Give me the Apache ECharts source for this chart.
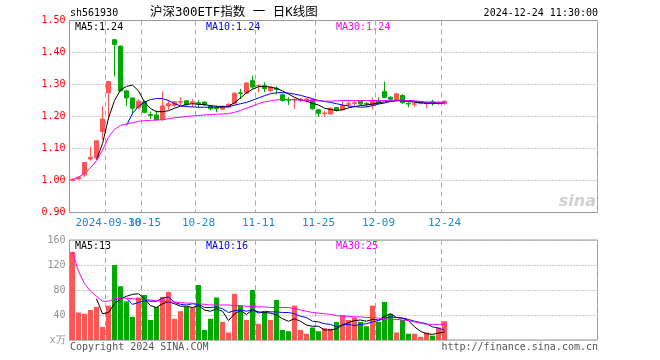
<!DOCTYPE html>
<html><head><meta charset="utf-8">
<script src="https://cdn.jsdelivr.net/npm/echarts@6/dist/echarts.min.js"></script>
<style>html,body{margin:0;padding:0;background:#fff}#c{width:660px;height:360px}</style>
</head><body><div id="c"></div>
<script>
// ---- data ----
const dates = ['2024-09-20','2024-09-23','2024-09-24','2024-09-25','2024-09-26','2024-09-27','2024-09-30',
'2024-10-08','2024-10-09','2024-10-10','2024-10-11','2024-10-14','2024-10-15','2024-10-16','2024-10-17','2024-10-18',
'2024-10-21','2024-10-22','2024-10-23','2024-10-24','2024-10-25','2024-10-28','2024-10-29','2024-10-30','2024-10-31',
'2024-11-01','2024-11-04','2024-11-05','2024-11-06','2024-11-07','2024-11-08','2024-11-11','2024-11-12','2024-11-13',
'2024-11-14','2024-11-15','2024-11-18','2024-11-19','2024-11-20','2024-11-21','2024-11-22','2024-11-25','2024-11-26',
'2024-11-27','2024-11-28','2024-11-29','2024-12-02','2024-12-03','2024-12-04','2024-12-05','2024-12-06','2024-12-09',
'2024-12-10','2024-12-11','2024-12-12','2024-12-13','2024-12-16','2024-12-17','2024-12-18','2024-12-19','2024-12-20',
'2024-12-23','2024-12-24'];
const opens = [1.000,1.005,1.018,1.067,1.071,1.153,1.274,1.440,1.420,1.280,1.258,1.227,1.246,1.206,1.205,1.190,
1.233,1.235,1.245,1.249,1.243,1.243,1.245,1.232,1.227,1.223,1.229,1.240,1.274,1.273,1.312,1.295,1.297,1.281,1.288,
1.268,1.253,1.252,1.252,1.252,1.252,1.221,1.209,1.208,1.228,1.221,1.238,1.241,1.248,1.241,1.234,1.249,1.278,1.260,
1.253,1.266,1.241,1.238,1.241,1.241,1.246,1.242,1.240];
const closes = [1.004,1.010,1.056,1.072,1.124,1.192,1.309,1.425,1.280,1.258,1.226,1.248,1.213,1.203,1.190,1.233,
1.240,1.246,1.247,1.237,1.246,1.241,1.237,1.224,1.225,1.232,1.238,1.273,1.272,1.305,1.292,1.297,1.287,1.292,1.285,
1.250,1.251,1.254,1.254,1.255,1.224,1.210,1.211,1.226,1.219,1.234,1.240,1.243,1.239,1.239,1.247,1.242,1.260,1.254,
1.271,1.243,1.239,1.240,1.246,1.243,1.244,1.244,1.248];
const lows = [0.998,1.003,1.012,1.062,1.068,1.128,1.192,1.325,1.278,1.233,1.207,1.222,1.210,1.192,1.188,1.187,
1.221,1.230,1.235,1.232,1.231,1.229,1.233,1.219,1.213,1.221,1.226,1.237,1.255,1.270,1.286,1.276,1.276,1.275,1.269,
1.246,1.236,1.224,1.245,1.244,1.222,1.198,1.199,1.206,1.215,1.219,1.229,1.232,1.235,1.229,1.222,1.240,1.257,1.250,
1.250,1.240,1.229,1.230,1.238,1.226,1.234,1.236,1.237];
const highs = [1.006,1.013,1.058,1.106,1.126,1.233,1.310,1.441,1.421,1.282,1.259,1.254,1.250,1.216,1.219,1.278,
1.252,1.247,1.260,1.250,1.254,1.252,1.247,1.236,1.234,1.234,1.242,1.275,1.286,1.306,1.328,1.300,1.307,1.294,1.294,
1.272,1.260,1.256,1.257,1.258,1.254,1.222,1.218,1.228,1.229,1.248,1.248,1.250,1.250,1.245,1.259,1.260,1.309,1.264,
1.272,1.270,1.245,1.245,1.248,1.246,1.252,1.249,1.251];
const ma5 = [null,null,null,null,1.065,1.115,1.195,1.250,1.283,1.294,1.298,1.280,1.245,1.225,1.215,1.215,1.218,
1.226,1.232,1.238,1.240,1.238,1.237,1.234,1.232,1.231,1.232,1.243,1.258,1.274,1.285,1.293,1.294,1.292,1.288,1.280,
1.270,1.260,1.252,1.248,1.241,1.236,1.226,1.222,1.219,1.221,1.227,1.231,1.234,1.236,1.239,1.242,1.246,1.248,1.250,
1.249,1.247,1.245,1.243,1.241,1.240,1.241,1.243];
const ma10 = [null,null,null,null,null,null,null,null,null,1.172,1.210,1.232,1.245,1.253,1.256,1.256,1.250,1.240,
1.233,1.231,1.230,1.229,1.229,1.229,1.229,1.229,1.231,1.235,1.240,1.244,1.251,1.258,1.265,1.271,1.274,1.275,1.273,
1.270,1.266,1.261,1.256,1.250,1.247,1.244,1.240,1.236,1.233,1.231,1.229,1.230,1.234,1.239,1.242,1.247,1.249,1.250,
1.250,1.248,1.245,1.244,1.243,1.244,1.244];
const ma30 = [1.003,1.010,1.022,1.040,1.062,1.095,1.135,1.160,1.172,1.177,1.180,1.185,1.187,1.188,1.189,1.190,
1.193,1.196,1.198,1.200,1.202,1.203,1.205,1.206,1.207,1.208,1.209,1.213,1.219,1.226,1.233,1.240,1.246,1.249,1.252,
1.253,1.253,1.252,1.251,1.250,1.250,1.249,1.248,1.248,1.249,1.250,1.250,1.250,1.250,1.250,1.250,1.250,1.250,1.250,
1.251,1.251,1.250,1.249,1.247,1.245,1.245,1.244,1.244];
const volumes = [141,44,42,48,53,21,55,120,86,62,37,68,72,32,53,69,77,34,46,53,52,88,16,34,68,29,12,74,55,32,80,
26,45,32,64,16,14,55,16,10,20,14,19,18,29,40,32,36,29,22,55,29,61,42,12,32,10,10,5,12,7,20,30];
const vma5 = [null,null,null,null,66,42,44,58,66,70,73,74,66,55,52,58,61,58,54,54,52,55,48,46,50,46,31,42,47,41,
48,45,44,43,40,34,30,34,30,24,22,22,16,16,18,24,28,31,32,30,33,32,38,42,36,35,31,21,14,10,9,11,13];
const vma10 = [null,null,null,null,null,null,null,null,null,67,57,60,63,62,62,67,69,60,57,56,58,57,52,52,53,50,
44,47,48,46,49,43,46,45,45,44,44,42,38,36,30,29,26,25,21,24,25,23,25,26,29,31,35,37,36,35,33,30,28,26,21,19,16];
const vma30 = [141,110,90,78,70,62,62,66,67,67,66,65,65,64,63,62,61,61,60,59,59,58,57,56,56,56,56,55,55,54,54,53,
53,52,52,52,52,50,48,46,44,43,42,41,39,38,38,37,37,36,36,35,34,33,33,32,31,29,27,25,25,25,25];
const tickDates = ['2024-09-30','2024-10-15','2024-10-28','2024-11-11','2024-11-25','2024-12-09','2024-12-24'];
const tickLabels = ['2024-09-30','10-15','10-28','11-11','11-25','12-09','12-24'];
const priceMin = 0.9, priceMax = 1.5, priceStep = 0.1;
const volMin = 0, volMax = 160, volStep = 40;
const SLOTS = 88;

// ---- build ----
const cats = dates.concat(Array.from({length: SLOTS - dates.length}, (_, k) => 'pad' + k));
const tickSet = new Set(tickDates);
const labelOf = {}; tickDates.forEach((d, k) => labelOf[d] = tickLabels[k]);
const firstTick = tickDates[0];
const UP = '#ff5555', DOWN = '#00a800';
const MONO = '"DejaVu Sans Mono", monospace';

function xAxisCfg(gi, labelFilter, showSplit) {
  return {
    type: 'category', gridIndex: gi, data: cats, boundaryGap: true, position: 'bottom',
    axisLine: {show: false}, axisTick: {show: false},
    axisLabel: {show: !!labelFilter, interval: (i, v) => labelFilter ? labelFilter(v) : false,
      formatter: v => labelOf[v] || '',
      color: '#1a8ad4', fontFamily: MONO, fontSize: 11, margin: 5, hideOverlap: false},
    splitLine: {show: showSplit, interval: (i, v) => tickSet.has(v), lineStyle: {color: '#aaaaaa', type: [5, 4], width: 1}}
  };
}
function lineSeries(data, color, xi, yi) {
  return {type: 'line', data, xAxisIndex: xi, yAxisIndex: yi, symbol: 'none', showSymbol: false, silent: true,
    lineStyle: {color, width: 1}, itemStyle: {color}, z: 5, animation: false};
}
function txt(text, x, y, fill, opts) {
  opts = opts || {};
  return {type: 'text', x, y, silent: true, z: 100,
    style: {text, fill, font: opts.font || ('10px ' + MONO), textAlign: opts.align || 'left', align: opts.align || 'left',
      textVerticalAlign: 'middle', verticalAlign: 'middle'}};
}
const last = a => a[a.length - 1];

const chart = echarts.init(document.getElementById('c'), null, {renderer: 'canvas'});
chart.setOption({
  animation: false,
  backgroundColor: '#ffffff',
  grid: [
    {left: 69.5, top: 20.5, width: 528, height: 192, show: true, borderColor: '#999999', borderWidth: 1, containLabel: false, outerBoundsMode: 'none'},
    {left: 69.5, top: 240, width: 528, height: 100, show: true, borderColor: '#999999', borderWidth: 1, containLabel: false, outerBoundsMode: 'none'}
  ],
  xAxis: [
    xAxisCfg(0, v => tickSet.has(v) && v !== firstTick, true),
    xAxisCfg(1, null, true),
    xAxisCfg(0, v => v === firstTick, false)
  ],
  yAxis: [
    {type: 'value', gridIndex: 0, min: priceMin, max: priceMax, interval: priceStep, scale: true,
      axisLine: {show: false}, axisTick: {show: false},
      axisLabel: {formatter: v => v.toFixed(2), color: '#ff0000', fontFamily: MONO, fontSize: 10, margin: 4},
      splitLine: {show: true, lineStyle: {color: '#999999', type: [1, 2], width: 1}}},
    {type: 'value', gridIndex: 1, min: volMin, max: volMax, interval: volStep,
      axisLine: {show: false}, axisTick: {show: false},
      axisLabel: {formatter: v => v === 0 ? 'x万' : String(v), color: '#909090', fontFamily: MONO, fontSize: 10, margin: 4},
      splitLine: {show: true, lineStyle: {color: '#999999', type: [1, 2], width: 1}}}
  ],
  series: [
    {type: 'candlestick', xAxisIndex: 0, yAxisIndex: 0, barWidth: 4,
      data: opens.map((o, i) => [o, closes[i], lows[i], highs[i]]),
      itemStyle: {color: UP, color0: DOWN, borderColor: UP, borderColor0: DOWN, borderWidth: 1}, z: 3},
    lineSeries(ma5, '#000000', 0, 0),
    lineSeries(ma10, '#0000ff', 0, 0),
    lineSeries(ma30, '#ff00ff', 0, 0),
    {type: 'bar', xAxisIndex: 1, yAxisIndex: 1, barWidth: 5, z: 3,
      data: volumes.map((v, i) => ({value: v, itemStyle: {color: closes[i] >= opens[i] ? UP : DOWN}}))},
    lineSeries(vma5, '#000000', 1, 1),
    lineSeries(vma10, '#0000ff', 1, 1),
    lineSeries(vma30, '#ff00ff', 1, 1)
  ],
  graphic: [
    txt('sh561930', 70, 13, '#000000'),
    txt('沪深300ETF指数 一 日K线图', 150, 13, '#000000', {font: '12.5px "DejaVu Sans Mono", "Noto Sans CJK SC"'}),
    txt('2024-12-24 11:30:00', 598, 13, '#000000', {align: 'right'}),
    txt('MA5:' + last(ma5).toFixed(2), 75, 27, '#000000'),
    txt('MA10:' + last(ma10).toFixed(2), 206, 27, '#0000ff'),
    txt('MA30:' + last(ma30).toFixed(2), 336, 27, '#ff00ff'),
    txt('MA5:' + last(vma5), 75, 246, '#000000'),
    txt('MA10:' + last(vma10), 206, 246, '#0000ff'),
    txt('MA30:' + last(vma30), 336, 246, '#ff00ff'),
    txt('Copyright 2024 SINA.COM', 70, 347, '#555555'),
    txt('http://finance.sina.com.cn', 598, 347, '#555555', {align: 'right'}),
    txt('sina', 596, 202, '#d0d0d0', {align: 'right', font: 'italic bold 16px "DejaVu Sans"'})
  ]
});
</script></body></html>
